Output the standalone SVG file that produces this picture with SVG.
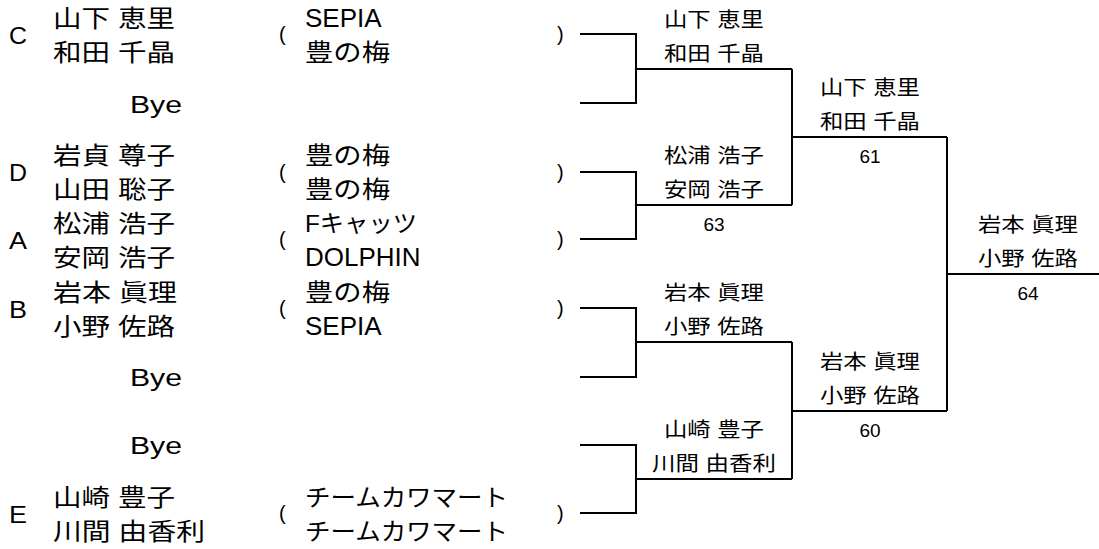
<svg xmlns="http://www.w3.org/2000/svg" width="1099" height="549" viewBox="0 0 1099 549">
<style>
text { fill: #000; font-family: "Liberation Sans", "Noto Sans CJK JP", sans-serif; }
.lt { font-size: 24px; }
.nm { font-size: 24px; }
.tm { font-size: 26px; }
.tj { font-size: 24px; }
.pr { font-size: 20px; }
.bye { font-size: 23px; }
.bn { font-size: 20px; text-anchor: middle; }
.sc { font-size: 19px; text-anchor: middle; }
.ln { fill: none; stroke: #000; stroke-width: 2; }
</style>
<rect width="1099" height="549" fill="#fff"/>

<g id="entry-C">
<text class="lt" x="9" y="44" textLength="18" lengthAdjust="spacingAndGlyphs">C</text>
<text class="nm" x="53" y="26.5" textLength="122" lengthAdjust="spacingAndGlyphs">山下 恵里</text>
<text class="nm" x="53" y="60.5" textLength="122" lengthAdjust="spacingAndGlyphs">和田 千晶</text>
<text class="pr" x="279" y="41">(</text>
<text class="tm" x="305" y="26.5">SEPIA</text>
<text class="tj" x="305" y="60.5" textLength="85" lengthAdjust="spacingAndGlyphs">豊の梅</text>
<text class="pr" x="557" y="41">)</text>
</g>

<g id="bye-1">
<text class="bye" x="130" y="112.5" textLength="52" lengthAdjust="spacingAndGlyphs">Bye</text>
</g>

<g id="entry-D">
<text class="lt" x="9" y="181" textLength="18" lengthAdjust="spacingAndGlyphs">D</text>
<text class="nm" x="53" y="164" textLength="122" lengthAdjust="spacingAndGlyphs">岩貞 尊子</text>
<text class="nm" x="53" y="198" textLength="122" lengthAdjust="spacingAndGlyphs">山田 聡子</text>
<text class="pr" x="279" y="179">(</text>
<text class="tj" x="305" y="164" textLength="85" lengthAdjust="spacingAndGlyphs">豊の梅</text>
<text class="tj" x="305" y="198" textLength="85" lengthAdjust="spacingAndGlyphs">豊の梅</text>
<text class="pr" x="557" y="179">)</text>
</g>

<g id="entry-A">
<text class="lt" x="9" y="249" textLength="18" lengthAdjust="spacingAndGlyphs">A</text>
<text class="nm" x="53" y="232" textLength="122" lengthAdjust="spacingAndGlyphs">松浦 浩子</text>
<text class="nm" x="53" y="266" textLength="122" lengthAdjust="spacingAndGlyphs">安岡 浩子</text>
<text class="pr" x="279" y="246">(</text>
<text class="tj" x="305" y="232" textLength="112" lengthAdjust="spacingAndGlyphs">Fキャッツ</text>
<text class="tm" x="305" y="266">DOLPHIN</text>
<text class="pr" x="557" y="246">)</text>
</g>

<g id="entry-B">
<text class="lt" x="9" y="318" textLength="18" lengthAdjust="spacingAndGlyphs">B</text>
<text class="nm" x="53" y="301" textLength="124" lengthAdjust="spacingAndGlyphs">岩本 眞理</text>
<text class="nm" x="53" y="335" textLength="122" lengthAdjust="spacingAndGlyphs">小野 佐路</text>
<text class="pr" x="279" y="315">(</text>
<text class="tj" x="305" y="301" textLength="85" lengthAdjust="spacingAndGlyphs">豊の梅</text>
<text class="tm" x="305" y="335">SEPIA</text>
<text class="pr" x="557" y="315">)</text>
</g>

<g id="bye-2">
<text class="bye" x="130" y="386" textLength="52" lengthAdjust="spacingAndGlyphs">Bye</text>
</g>

<g id="bye-3">
<text class="bye" x="130" y="454" textLength="52" lengthAdjust="spacingAndGlyphs">Bye</text>
</g>

<g id="entry-E">
<text class="lt" x="9" y="523" textLength="18" lengthAdjust="spacingAndGlyphs">E</text>
<text class="nm" x="53" y="506" textLength="122" lengthAdjust="spacingAndGlyphs">山崎 豊子</text>
<text class="nm" x="53" y="540" textLength="152" lengthAdjust="spacingAndGlyphs">川間 由香利</text>
<text class="pr" x="279" y="520">(</text>
<text class="tj" x="305" y="506" textLength="203" lengthAdjust="spacingAndGlyphs">チームカワマート</text>
<text class="tj" x="305" y="540" textLength="203" lengthAdjust="spacingAndGlyphs">チームカワマート</text>
<text class="pr" x="557" y="520">)</text>
</g>

<g id="r1-w1">
<text class="bn" x="714" y="26.6" textLength="100" lengthAdjust="spacingAndGlyphs">山下 恵里</text>
<text class="bn" x="714" y="60.6" textLength="100" lengthAdjust="spacingAndGlyphs">和田 千晶</text>
</g>
<g id="r1-w2">
<text class="bn" x="714" y="162.6" textLength="100" lengthAdjust="spacingAndGlyphs">松浦 浩子</text>
<text class="bn" x="714" y="196.6" textLength="100" lengthAdjust="spacingAndGlyphs">安岡 浩子</text>
<text class="sc" x="714" y="231">63</text>
</g>
<g id="r1-w3">
<text class="bn" x="714" y="299.6" textLength="100" lengthAdjust="spacingAndGlyphs">岩本 眞理</text>
<text class="bn" x="714" y="333.6" textLength="100" lengthAdjust="spacingAndGlyphs">小野 佐路</text>
</g>
<g id="r1-w4">
<text class="bn" x="714" y="436.6" textLength="100" lengthAdjust="spacingAndGlyphs">山崎 豊子</text>
<text class="bn" x="714" y="470.6" textLength="124" lengthAdjust="spacingAndGlyphs">川間 由香利</text>
</g>
<g id="r2-w1">
<text class="bn" x="870" y="94.6" textLength="100" lengthAdjust="spacingAndGlyphs">山下 恵里</text>
<text class="bn" x="870" y="128.6" textLength="100" lengthAdjust="spacingAndGlyphs">和田 千晶</text>
<text class="sc" x="870" y="163">61</text>
</g>
<g id="r2-w2">
<text class="bn" x="870" y="368.6" textLength="100" lengthAdjust="spacingAndGlyphs">岩本 眞理</text>
<text class="bn" x="870" y="402.6" textLength="100" lengthAdjust="spacingAndGlyphs">小野 佐路</text>
<text class="sc" x="870" y="437">60</text>
</g>
<g id="final">
<text class="bn" x="1028" y="231.6" textLength="100" lengthAdjust="spacingAndGlyphs">岩本 眞理</text>
<text class="bn" x="1028" y="265.6" textLength="100" lengthAdjust="spacingAndGlyphs">小野 佐路</text>
<text class="sc" x="1028" y="300">64</text>
</g>

<g id="connectors" class="ln">
<path d="M580 34 H636 V103 H580"/>
<path d="M636 69 H792"/>
<path d="M580 172 H636 V239 H580"/>
<path d="M636 205 H792"/>
<path d="M580 308 H636 V377 H580"/>
<path d="M636 342 H792"/>
<path d="M580 445 H636 V513 H580"/>
<path d="M636 479 H792"/>
<path d="M792 69 V205"/>
<path d="M792 137 H947"/>
<path d="M792 342 V479"/>
<path d="M792 411 H947"/>
<path d="M947 137 V411"/>
<path d="M947 274 H1099"/>
</g>
</svg>
